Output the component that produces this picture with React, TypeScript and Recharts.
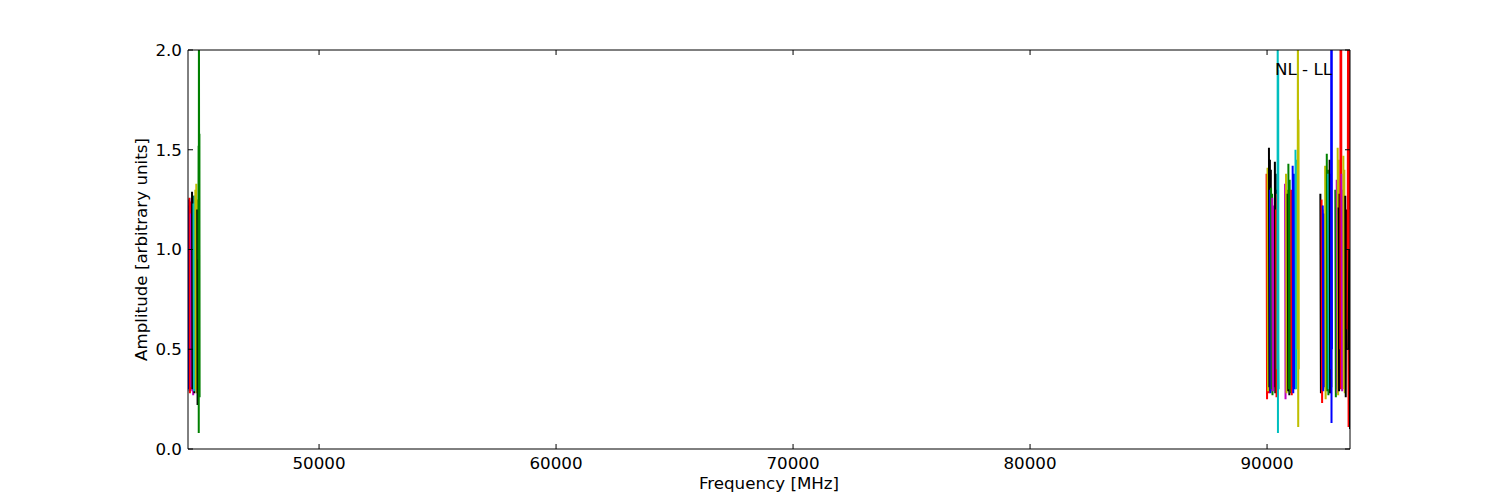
import { LineChart, Line, XAxis, YAxis } from "recharts";

// matplotlib classic colours
const B = "#0000ff";
const G = "#008000";
const R = "#ff0000";
const C = "#00bfbf";
const M = "#bf00bf";
const Y = "#bfbf00";
const K = "#000000";

const xTicks = [50000, 60000, 70000, 80000, 90000];
const yTicks = [0, 0.5, 1.0, 1.5, 2.0];

// one entry per spectral window: frequencies [MHz], amplitudes, colour
const spwFreqs: number[][] = [
  [44480, 44500, 44520, 44540, 44560, 44580],
  [44530, 44550, 44570, 44590, 44610, 44630],
  [44590, 44610, 44630, 44650, 44670, 44690],
  [44640, 44660, 44680, 44700, 44720, 44740],
  [44700, 44720, 44740, 44760, 44780, 44800],
  [44780, 44800, 44820, 44840, 44860, 44880],
  [44860, 44875, 44890, 44905],
  [44910, 44917, 44924, 44931, 44938, 44945, 44952, 44960],
  [89980, 90000, 90020, 90040, 90060, 90080],
  [90020, 90040, 90060, 90080, 90100],
  [90080, 90100, 90120, 90140, 90160],
  [90120, 90145, 90170, 90200],
  [90170, 90190, 90210, 90230, 90250],
  [90220, 90245, 90270, 90300],
  [90330, 90348, 90365, 90383, 90400],
  [90380, 90400, 90420, 90440],
  [90440, 90450, 90460, 90470, 90480, 90490],
  [90760, 90780, 90800, 90820, 90840],
  [90800, 90823, 90846, 90870],
  [90870, 90893, 90916, 90940],
  [90900, 90926, 90953, 90980],
  [91020, 91043, 91066, 91090],
  [91080, 91106, 91133, 91160],
  [91200, 91225, 91250],
  [91290, 91302, 91315, 91328, 91340],
  [92250, 92273, 92296, 92320],
  [92300, 92323, 92346, 92370],
  [92350, 92373, 92396, 92420],
  [92450, 92473, 92496, 92520],
  [92520, 92543, 92566, 92590],
  [92580, 92603, 92626, 92650],
  [92640, 92663, 92686, 92710],
  [92700, 92710, 92720, 92730, 92740],
  [92880, 92903, 92926, 92950],
  [92940, 92970, 93000],
  [92980, 93000, 93020, 93040],
  [93020, 93040, 93060, 93080],
  [93090, 93102, 93115, 93128, 93140],
  [93140, 93170, 93200],
  [93220, 93240, 93260, 93280],
  [93300, 93320, 93340, 93360],
  [93400, 93420, 93440, 93460, 93480],
  [93440, 93470, 93500],
];

const spwAmps: number[][] = [
  [1.22, 0.3, 1.25, 0.29, 1.21, 0.31],
  [1.26, 0.28, 1.2, 0.32, 1.24, 0.3],
  [1.18, 0.31, 1.26, 0.29, 1.22, 0.27],
  [1.29, 0.3, 1.22, 0.33, 1.27, 0.28],
  [1.23, 0.29, 1.27, 0.31, 1.2, 0.3],
  [1.3, 0.3, 1.33, 0.28, 1.25, 0.31],
  [1.2, 0.22, 1.15, 0.3],
  [0.95, 1.52, 0.08, 2.3, 1.4, 0.87, 1.58, 0.26],
  [1.38, 0.25, 1.35, 0.3, 1.32, 0.28],
  [1.41, 0.29, 1.37, 0.31, 1.3],
  [1.51, 0.31, 1.45, 0.29, 1.4],
  [1.3, 0.28, 1.25, 0.32],
  [1.31, 0.3, 1.28, 0.27, 1.02],
  [1.26, 0.29, 1.22, 0.31],
  [1.44, 0.28, 1.38, 0.3, 1.3],
  [1.2, 0.26, 1.28, 0.3],
  [0.4, 2.2, 0.08, 1.9, 0.5, 0.3],
  [1.33, 0.25, 1.28, 0.3, 1.25],
  [1.38, 0.28, 1.3, 0.31],
  [1.28, 0.29, 1.22, 0.27],
  [1.43, 0.3, 1.35, 0.28],
  [1.3, 0.27, 1.25, 0.31],
  [1.42, 0.28, 1.38, 0.3],
  [1.5, 0.3, 1.45],
  [0.5, 2.3, 0.11, 1.65, 0.4],
  [1.28, 0.28, 1.22, 0.3],
  [1.25, 0.23, 1.2, 0.3],
  [1.22, 0.29, 1.18, 0.31],
  [1.42, 0.25, 1.36, 0.3],
  [1.48, 0.29, 1.4, 0.27],
  [1.38, 0.3, 1.32, 0.28],
  [1.45, 0.28, 1.38, 0.31],
  [0.4, 2.3, 0.13, 2.1, 0.5],
  [1.3, 0.26, 1.25, 0.3],
  [1.35, 0.28, 1.3],
  [1.51, 0.27, 1.45, 0.3],
  [1.21, 0.29, 1.28, 0.31],
  [0.5, 2.3, 0.3, 2.2, 0.4],
  [1.38, 0.29, 1.3],
  [1.47, 0.3, 1.4, 0.28],
  [1.27, 0.26, 1.2, 0.5],
  [0.6, 2.3, 0.11, 2.2, 1.2],
  [0.5, 1.0, 0.1],
];

const spwColors = [
  B, R, M, K, C, Y, K, G,
  R, Y, K, B, G, M, K, R, C,
  M, Y, K, G, R, B, C, Y,
  K, R, B, Y, G, C, K, B, G, M, Y, K, R, M, Y, K, R, K,
];

const font = "'DejaVu Sans', sans-serif";
const fs = 16.7;
const tickStyle = { fontSize: fs, fill: "#000", fontFamily: font };

export default function App() {
  return (
    <div style={{ position: "absolute", left: 0, top: 0, width: 1500, height: 500, background: "#fff" }}>
      <LineChart width={1500} height={500} margin={{ top: 40, right: 140, bottom: 11, left: 128 }}>
        <XAxis
          type="number"
          dataKey="f"
          domain={[44470, 93500]}
          ticks={xTicks}
          allowDataOverflow
          height={40}
          tickSize={-5}
          tickMargin={13}
          tick={tickStyle}
          stroke="#000"
          label={{ value: "Frequency [MHz]", position: "insideBottom", offset: 0, style: { fontSize: fs, fontFamily: font, fill: "#000" } }}
        />
        <XAxis
          xAxisId="top"
          orientation="top"
          type="number"
          dataKey="f"
          domain={[44470, 93500]}
          ticks={xTicks}
          allowDataOverflow
          height={10}
          tickSize={-5}
          tickFormatter={() => ""}
          stroke="#000"
        />
        <YAxis
          type="number"
          domain={[0, 2]}
          ticks={yTicks}
          allowDataOverflow
          width={60}
          tickSize={-5}
          tickMargin={11}
          tick={tickStyle}
          tickFormatter={(v: number) => v.toFixed(1)}
          stroke="#000"
          label={{ value: "Amplitude [arbitrary units]", angle: -90, position: "insideLeft", offset: 13, style: { textAnchor: "middle", fontSize: fs, fontFamily: font, fill: "#000" } }}
        />
        <YAxis
          yAxisId="right"
          orientation="right"
          type="number"
          domain={[0, 2]}
          ticks={yTicks}
          allowDataOverflow
          width={10}
          tickSize={-5}
          tickFormatter={() => ""}
          stroke="#000"
        />
        {spwFreqs.map((freqs, i) => (
          <Line
            key={`spw-${i}`}
            data={freqs.map((f, j) => ({ f, a: spwAmps[i][j] }))}
            dataKey="a"
            type="linear"
            stroke={spwColors[i]}
            strokeWidth={2}
            dot={false}
            isAnimationActive={false}
          />
        ))}
      </LineChart>
      <div style={{ position: "absolute", left: 1275, top: 59, fontSize: fs, fontFamily: font, color: "#000" }}>
        NL - LL
      </div>
    </div>
  );
}
